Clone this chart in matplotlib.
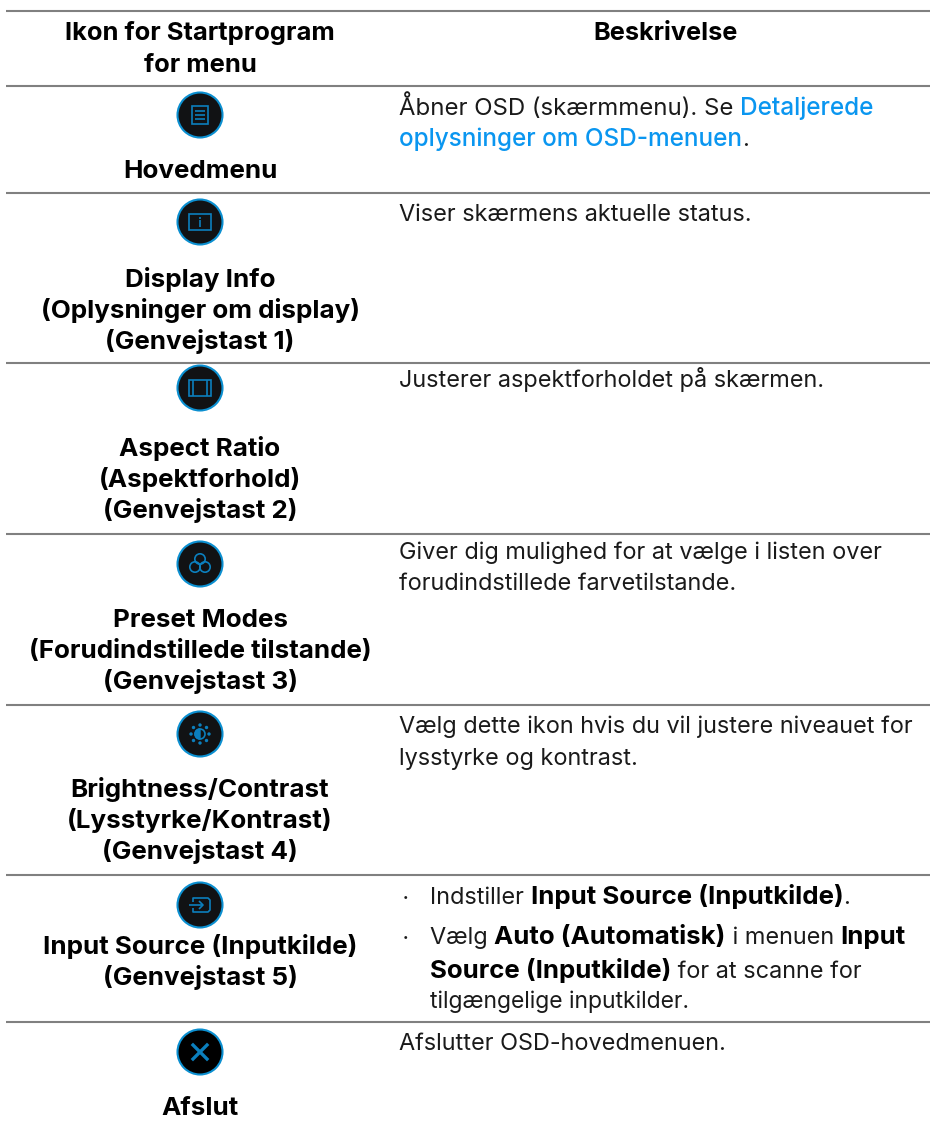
import matplotlib
matplotlib.use("Agg")
import matplotlib.pyplot as plt
from matplotlib.patches import Circle, Rectangle, Wedge

rule_y = [11, 86, 193, 363, 534, 705, 875, 1022]
icon_y = [115, 222, 388, 564, 734, 905, 1052]
icon_names = ["menu", "info", "aspect", "preset", "bright", "input", "exit"]

header_left = [("Ikon for Startprogram", 40), ("for menu", 72)]
header_right = "Beskrivelse"

left_labels = [
    ("Hovedmenu", 178),
    ("Display Info", 287),
    ("(Oplysninger om display)", 318),
    ("(Genvejstast 1)", 349),
    ("Aspect Ratio", 456),
    ("(Aspektforhold)", 487),
    ("(Genvejstast 2)", 518),
    ("Preset Modes", 627),
    ("(Forudindstillede tilstande)", 658),
    ("(Genvejstast 3)", 689),
    ("Brightness/Contrast", 797),
    ("(Lysstyrke/Kontrast)", 828),
    ("(Genvejstast 4)", 859),
    ("Input Source (Inputkilde)", 954),
    ("(Genvejstast 5)", 985),
    ("Afslut", 1115),
]

# (x, baseline, runs) with runs = (text, style)
right_lines = [
    (399, 115, [("Åbner OSD (skærmmenu). Se ", "wide"), ("Detaljerede", "link")]),
    (399, 146, [("oplysninger om OSD-menuen", "link"), (".", "text")]),
    (399, 221, [("Viser skærmens aktuelle status.", "text")]),
    (399, 387, [("Justerer aspektforholdet på skærmen.", "text")]),
    (399, 559, [("Giver dig mulighed for at vælge i listen over", "text")]),
    (399, 590, [("forudindstillede farvetilstande.", "text")]),
    (399, 733, [("Vælg dette ikon hvis du vil justere niveauet for", "text")]),
    (399, 765, [("lysstyrke og kontrast.", "text")]),
    (430, 904, [("Indstiller ", "text"), ("Input Source (Inputkilde)", "bold"), (".", "text")]),
    (430, 944, [("Vælg ", "text"), ("Auto (Automatisk)", "bold"), (" i menuen ", "text"), ("Input", "bold")]),
    (430, 978, [("Source (Inputkilde)", "bold"), (" for at scanne for", "text")]),
    (430, 1008, [("tilgængelige inputkilder.", "tight")]),
    (399, 1050, [("Afslutter OSD-hovedmenuen.", "text")]),
]
bullet_y = [897, 937]

plt.rcParams["font.family"] = ["Inter", "DejaVu Sans"]
FS_LEFT = 18.7
RULE = "#808080"
BLUE = "#0b7fbd"
LINK = "#0a96f0"
INK = "#1a1a1a"

run_styles = {
    "text": dict(fontsize=16.9, color=INK),
    "wide": dict(fontsize=17.25, color=INK),
    "tight": dict(fontsize=16.5, color=INK),
    "bold": dict(fontsize=18.6, fontweight="bold", color="black"),
    "link": dict(fontsize=17.5, fontweight="medium", color=LINK),
}

fig = plt.figure(figsize=(9.3, 11.24), dpi=100)
ax = fig.add_axes([0, 0, 1, 1])
ax.set_xlim(0, 930)
ax.set_ylim(1124, 0)
ax.axis("off")

for y in rule_y:
    ax.plot([6, 930], [y, y], color=RULE, lw=1.5, solid_capstyle="butt")

for t, y in header_left:
    ax.text(200, y, t, ha="center", va="baseline", fontsize=18.4, fontweight="bold", color="black")
ax.text(666, 40, header_right, ha="center", va="baseline", fontsize=18.2, fontweight="bold", color="black")

for t, y in left_labels:
    ax.text(200, y, t, ha="center", va="baseline", fontsize=FS_LEFT, fontweight="bold", color="black")


def draw_icon(name, cy):
    cx = 200
    face = "black" if name == "exit" else "#111214"
    ax.add_patch(Circle((cx, cy), 22.5, fc=face, ec="#0b8fd0", lw=1.5))
    g = dict(color=BLUE, lw=1.2, solid_capstyle="butt")
    if name == "menu":
        ax.add_patch(Rectangle((cx - 8, cy - 9), 16, 18, fc="none", ec=BLUE, lw=1.2))
        for dy in (-4, 0, 4):
            ax.plot([cx - 5, cx + 5], [cy + dy, cy + dy], **g)
    elif name == "info":
        ax.add_patch(Rectangle((cx - 11, cy - 8), 22, 16, fc="none", ec=BLUE, lw=1.2))
        ax.plot([cx, cx], [cy - 2, cy + 5], **g)
        ax.plot([cx, cx], [cy - 5, cy - 3.5], **g)
    elif name == "aspect":
        ax.add_patch(Rectangle((cx - 11, cy - 8), 22, 16, fc="none", ec=BLUE, lw=1.2))
        ax.plot([cx - 7, cx - 7], [cy - 8, cy + 8], **g)
        ax.plot([cx + 7, cx + 7], [cy - 8, cy + 8], **g)
    elif name == "preset":
        for dx, dy in ((0, -5), (-5, 3), (5, 3)):
            ax.add_patch(Circle((cx + dx, cy + dy), 5.2, fc="none", ec=BLUE, lw=1.2))
    elif name == "bright":
        ax.add_patch(Circle((cx, cy), 5, fc="none", ec=BLUE, lw=1.2))
        ax.add_patch(Wedge((cx, cy), 5, 90, 270, fc=BLUE, ec=BLUE))
        for dx, dy in ((0, -9), (0, 9), (-9, 0), (9, 0), (-6.5, -6.5), (6.5, -6.5), (-6.5, 6.5), (6.5, 6.5)):
            ax.add_patch(Circle((cx + dx, cy + dy), 1.7, fc=BLUE, ec="none"))
    elif name == "input":
        ax.plot([cx - 7, cx - 7, cx + 8, cx + 10, cx + 10, cx + 8, cx - 7, cx - 7],
                [cy - 3, cy - 7, cy - 7, cy - 5, cy + 5, cy + 7, cy + 7, cy + 3], **g)
        ax.plot([cx - 11, cx + 3], [cy, cy], **g)
        ax.plot([cx - 1, cx + 3, cx - 1], [cy - 4, cy, cy + 4], **g)
    elif name == "exit":
        ax.plot([cx - 7, cx + 7], [cy - 7, cy + 7], color=BLUE, lw=2.4)
        ax.plot([cx - 7, cx + 7], [cy + 7, cy - 7], color=BLUE, lw=2.4)


for name, y in zip(icon_names, icon_y):
    draw_icon(name, y)

fig.canvas.draw()
rend = fig.canvas.get_renderer()
for x0, y, runs in right_lines:
    x = x0
    for t, st in runs:
        tx = ax.text(x, y, t, ha="left", va="baseline", **run_styles[st])
        x += tx.get_window_extent(rend).width

for y in bullet_y:
    ax.text(405, y, "•", ha="center", va="center", fontsize=7, color=INK)

fig.savefig("out.png", dpi=100)
